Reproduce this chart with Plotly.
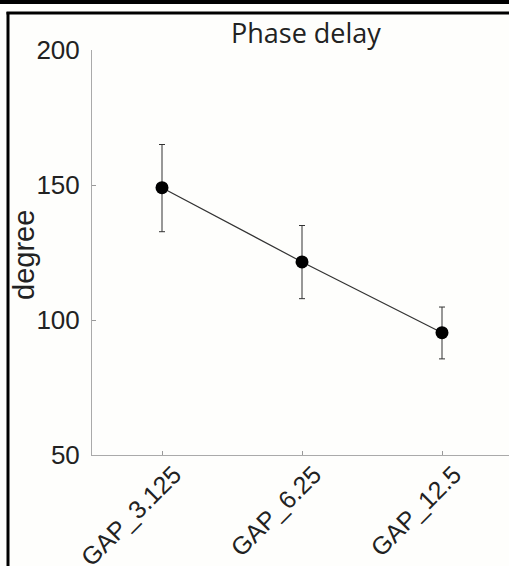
import plotly.graph_objects as go

categories = ["GAP_3.125", "GAP_6.25", "GAP_12.5"]
phase_delay = [149, 121.5, 95.3]
err_plus = [16, 13.5, 9.5]
err_minus = [16.3, 13.6, 9.7]
y_ticks = [50, 100, 150, 200]

W, H = 509, 566
L, R, T, B = 92, 509, 50, 455

def px(x):
    return (x - L) / (R - L)

def py(y):
    return (B - y) / (B - T)

fig = go.Figure()
fig.add_trace(go.Scatter(
    x=list(range(len(categories))), y=phase_delay,
    mode="lines+markers",
    line=dict(color="#333333", width=1.2),
    marker=dict(color="black", size=13),
    error_y=dict(type="data", symmetric=False, array=err_plus, arrayminus=err_minus,
                 color="#333333", thickness=1, width=3),
    showlegend=False,
))

font_main = "Liberation Sans, Arial, sans-serif"
fig.update_layout(
    width=W, height=H,
    margin=dict(l=L, r=W - R, t=T, b=H - B, pad=0, autoexpand=False),
    paper_bgcolor="#fefefc", plot_bgcolor="#fefefc",
    font=dict(family=font_main, size=26, color="#222222"),
    xaxis=dict(
        range=[-0.5, -0.5 + (R - L) / 140.0],
        tickmode="array", tickvals=list(range(len(categories))), ticktext=categories,
        tickangle=-45, ticks="inside", ticklen=4, tickcolor="#999999",
        showline=True, linecolor="#aaaaaa", linewidth=1,
        showgrid=False, zeroline=False, automargin=False,
        ticklabelshift=12, ticklabelstandoff=-6,
        tickfont=dict(size=25, family=font_main, color="#222222"),
    ),
    yaxis=dict(
        range=[50, 200], tickmode="array", tickvals=y_ticks,
        ticks="inside", ticklen=4, tickcolor="#999999",
        showline=True, linecolor="#aaaaaa", linewidth=1,
        showgrid=False, zeroline=False, ticklabelstandoff=6, automargin=False,
        tickfont=dict(size=26, family=font_main, color="#222222"),
    ),
    annotations=[
        dict(text="Phase delay", x=px(306), y=py(33), xref="paper", yref="paper",
             showarrow=False, xanchor="center", yanchor="middle",
             font=dict(family="Open Sans, sans-serif", size=27, color="#222222")),
        dict(text="degree", x=px(24), y=py(255), xref="paper", yref="paper",
             showarrow=False, xanchor="center", yanchor="middle", textangle=-90,
             font=dict(family=font_main, size=29, color="#222222")),
    ],
    shapes=[
        dict(type="rect", xref="paper", yref="paper", x0=px(-5), x1=px(520),
             y0=py(4), y1=py(-5), fillcolor="black", line=dict(width=0), layer="above"),
        dict(type="line", xref="paper", yref="paper", x0=px(8), x1=px(8),
             y0=py(12), y1=py(600), line=dict(color="black", width=3), layer="above"),
        dict(type="line", xref="paper", yref="paper", x0=px(6.5), x1=px(530),
             y0=py(13), y1=py(13), line=dict(color="black", width=3), layer="above"),
    ],
)

fig.write_html("out.html", config={"displayModeBar": False},
               post_script="document.body.style.margin='0';document.body.style.overflow='hidden';")
